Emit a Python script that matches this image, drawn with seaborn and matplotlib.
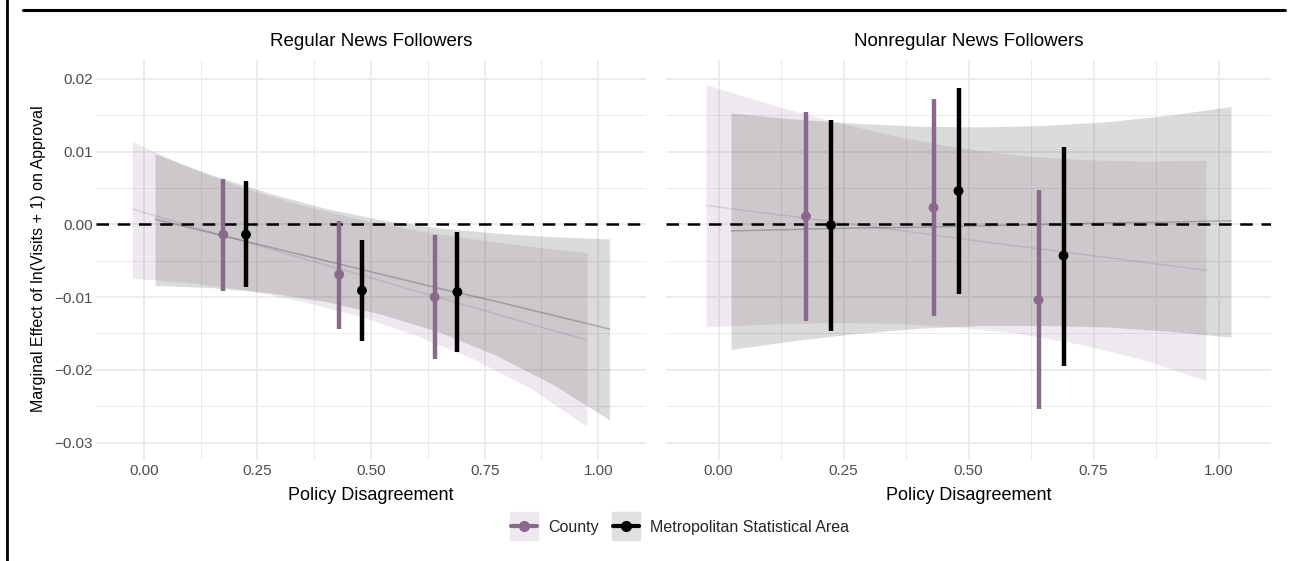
import matplotlib
matplotlib.use("Agg")
import numpy as np
import pandas as pd
import matplotlib.pyplot as plt
import seaborn as sns
from matplotlib.lines import Line2D
from matplotlib.legend_handler import HandlerTuple

# ---- data ----
panels = ["Regular News Followers", "Nonregular News Followers"]
groups = ["County", "Metropolitan Statistical Area"]

# binned estimates (dodged x positions)
pt_x_county = [0.175, 0.43, 0.64]
pt_x_msa = [0.225, 0.48, 0.69]

reg_county_est = [-0.0014, -0.0069, -0.0100]
reg_county_lo = [-0.0091, -0.0144, -0.0185]
reg_county_hi = [0.0063, 0.0005, -0.0015]
reg_msa_est = [-0.0014, -0.0091, -0.0093]
reg_msa_lo = [-0.0086, -0.0161, -0.0176]
reg_msa_hi = [0.0060, -0.0022, -0.0011]

non_county_est = [0.0011, 0.0023, -0.0104]
non_county_lo = [-0.0133, -0.0126, -0.0254]
non_county_hi = [0.0154, 0.0173, 0.0047]
non_msa_est = [-0.0001, 0.0046, -0.0043]
non_msa_lo = [-0.0146, -0.0096, -0.0195]
non_msa_hi = [0.0143, 0.0188, 0.0107]

# linear marginal effect + confidence band
band_x_county = [-0.025, 0.1, 0.225, 0.35, 0.475, 0.6, 0.725, 0.85, 0.975]
band_x_msa = [0.025, 0.15, 0.275, 0.4, 0.525, 0.65, 0.775, 0.9, 1.025]

reg_county_fit = [0.0021, -0.0002, -0.0024, -0.0047, -0.0069, -0.0092, -0.0114, -0.0137, -0.0159]
reg_county_up = [0.0114, 0.0078, 0.0049, 0.0026, 0.0007, -0.0008, -0.0020, -0.0030, -0.0039]
reg_county_dn = [-0.0074, -0.0080, -0.0090, -0.0106, -0.0126, -0.0153, -0.0185, -0.0225, -0.0278]
reg_msa_fit = [0.0007, -0.0012, -0.0031, -0.0050, -0.0069, -0.0088, -0.0106, -0.0125, -0.0144]
reg_msa_up = [0.0097, 0.0068, 0.0043, 0.0022, 0.0006, -0.0005, -0.0012, -0.0017, -0.0020]
reg_msa_dn = [-0.0084, -0.0087, -0.0094, -0.0106, -0.0124, -0.0148, -0.0180, -0.0220, -0.0269]

non_county_fit = [0.0026, 0.0015, 0.0004, -0.0007, -0.0019, -0.0030, -0.0041, -0.0052, -0.0063]
non_county_up = [0.0192, 0.0166, 0.0142, 0.0122, 0.0106, 0.0095, 0.0089, 0.0087, 0.0088]
non_county_dn = [-0.0141, -0.0137, -0.0135, -0.0136, -0.0141, -0.0150, -0.0165, -0.0186, -0.0215]
non_msa_fit = [-0.0009, -0.0007, -0.0005, -0.0004, -0.0002, 0.0000, 0.0002, 0.0003, 0.0005]
non_msa_up = [0.0153, 0.0145, 0.0139, 0.0135, 0.0134, 0.0136, 0.0141, 0.0150, 0.0162]
non_msa_dn = [-0.0172, -0.0160, -0.0150, -0.0143, -0.0139, -0.0139, -0.0141, -0.0147, -0.0155]

x_ticks = [0.0, 0.25, 0.5, 0.75, 1.0]
x_labels = ["0.00", "0.25", "0.50", "0.75", "1.00"]
y_ticks = [-0.03, -0.02, -0.01, 0.0, 0.01, 0.02]
y_labels = ["\u22120.03", "\u22120.02", "\u22120.01", "0.00", "0.01", "0.02"]

colors = {"County": "#8a6a8c", "Metropolitan Statistical Area": "#000000"}
key_fill = {"County": "#eee9ee", "Metropolitan Statistical Area": "#e0e0e0"}
FONT = ["Liberation Sans", "DejaVu Sans"]

# ---- tidy frames ----
def points_frame(panel, ce, cl, ch, me, ml, mh):
    a = pd.DataFrame({"x": pt_x_county, "est": ce, "lo": cl, "hi": ch, "geo": groups[0]})
    b = pd.DataFrame({"x": pt_x_msa, "est": me, "lo": ml, "hi": mh, "geo": groups[1]})
    d = pd.concat([a, b], ignore_index=True)
    d["panel"] = panel
    return d

def band_frame(panel, cf, cu, cd, mf, mu, md):
    a = pd.DataFrame({"x": band_x_county, "fit": cf, "up": cu, "dn": cd, "geo": groups[0]})
    b = pd.DataFrame({"x": band_x_msa, "fit": mf, "up": mu, "dn": md, "geo": groups[1]})
    d = pd.concat([a, b], ignore_index=True)
    d["panel"] = panel
    return d

pts = pd.concat([
    points_frame(panels[0], reg_county_est, reg_county_lo, reg_county_hi, reg_msa_est, reg_msa_lo, reg_msa_hi),
    points_frame(panels[1], non_county_est, non_county_lo, non_county_hi, non_msa_est, non_msa_lo, non_msa_hi),
], ignore_index=True)
bands = pd.concat([
    band_frame(panels[0], reg_county_fit, reg_county_up, reg_county_dn, reg_msa_fit, reg_msa_up, reg_msa_dn),
    band_frame(panels[1], non_county_fit, non_county_up, non_county_dn, non_msa_fit, non_msa_up, non_msa_dn),
], ignore_index=True)

# ---- style ----
sns.set_theme(style="whitegrid")
plt.rcParams['font.family'] = FONT
plt.rcParams['axes.edgecolor'] = "white"

W, H = 1298, 561
fig = plt.figure(figsize=(W / 100, H / 100), dpi=100)

# panel boxes in pixels: (left, right), top=60, bottom=460
boxes = [(96, 646), (666, 1271)]
top_px, bot_px = 60, 460

for i, panel in enumerate(panels):
    l, r = boxes[i]
    ax = fig.add_axes([l / W, 1 - bot_px / H, (r - l) / W, (bot_px - top_px) / H])
    ax.set_facecolor("white")
    ax.set_xlim(-0.105, 1.105)
    ax.set_ylim(-0.0324, 0.0226)
    ax.set_xticks(x_ticks)
    ax.set_xticklabels(x_labels)
    ax.set_yticks(y_ticks)
    ax.set_yticklabels(y_labels if i == 0 else [])
    ax.set_xticks([0.125, 0.375, 0.625, 0.875], minor=True)
    ax.set_yticks([-0.025, -0.015, -0.005, 0.005, 0.015], minor=True)
    ax.grid(which="major", color="#ebebeb", lw=1.3)
    ax.grid(which="minor", color="#ebebeb", lw=0.7)
    ax.tick_params(which="both", length=0, labelsize=11, labelcolor="#4d4d4d")
    ax.tick_params(axis="x", pad=3)
    ax.tick_params(axis="y", pad=2)
    for s in ax.spines.values():
        s.set_visible(False)

    bd = bands[bands.panel == panel]
    for g in groups:
        sub = bd[bd.geo == g]
        ax.fill_between(sub.x, sub.dn, sub.up, color=colors[g], alpha=0.14, lw=0, zorder=2)
    sns.lineplot(data=bd, x="x", y="fit", hue="geo", palette=colors, alpha=0.22,
                 lw=1.1, legend=False, ax=ax, zorder=3)

    ax.axhline(0, color="black", ls=(0, (5, 3.5)), lw=1.8, zorder=4)

    pd_ = pts[pts.panel == panel]
    for g in groups:
        sub = pd_[pd_.geo == g]
        ax.vlines(sub.x, sub.lo, sub.hi, color=colors[g], lw=3.2, zorder=5)
    sns.scatterplot(data=pd_, x="x", y="est", hue="geo", palette=colors, s=50,
                    edgecolor="none", legend=False, ax=ax, zorder=6)

    ax.set_xlabel("")
    ax.set_ylabel("")
    fig.text(((l + r) / 2) / W, 1 - 42 / H, panel, ha="center", va="center",
             fontsize=13.5, color="black")
    fig.text(((l + r) / 2) / W, 1 - 496 / H, "Policy Disagreement", ha="center", va="center",
             fontsize=13, color="black")

fig.text(39 / W, 1 - 259 / H, "Marginal Effect of ln(Visits + 1) on Approval",
         rotation=90, ha="center", va="center", fontsize=11.5, color="black")

# legend: shaded key square with a point-range line on top
handles = []
for g in groups:
    bg = Line2D([], [], lw=0, marker="s", markersize=20.5, color=key_fill[g])
    line = Line2D([], [], color=colors[g], lw=3, marker="o", markersize=7)
    handles.append((bg, line))
fig.legend(handles, groups, handler_map={tuple: HandlerTuple(ndivide=1)},
           loc="center", bbox_to_anchor=(680 / W, 1 - 527 / H), ncol=2, frameon=False,
           fontsize=11.5, handlelength=1.6, handleheight=1.0, columnspacing=0.9,
           handletextpad=0.7, numpoints=1)

# frame lines from the source page
fig.add_artist(Line2D([23 / W, 1285 / W], [1 - 10 / H, 1 - 10 / H], color="black", lw=2.2))
fig.add_artist(Line2D([7 / W, 7 / W], [0, 1], color="black", lw=2.0))

fig.savefig("out.png", dpi=100)
